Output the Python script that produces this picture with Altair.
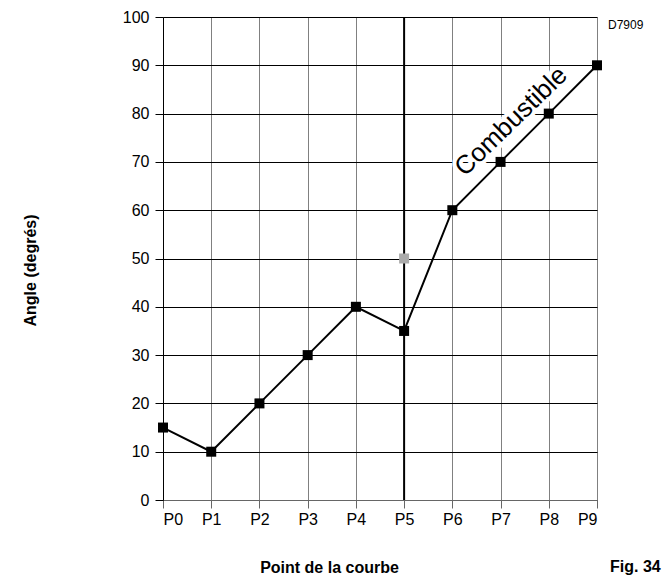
import altair as alt
import pandas as pd

# Curve points
points = ["P0", "P1", "P2", "P3", "P4", "P5", "P6", "P7", "P8", "P9"]
angles = [15, 10, 20, 30, 40, 35, 60, 70, 80, 90]

# Alternative value at P5 (grey marker)
alt_point = ["P5"]
alt_angle = [50]

# Annotations
curve_label = "Combustible"
curve_label_pos = [7.22, 78.4]  # (point index, angle) of the label centre
ref_code = "D7909"
fig_label = "Fig. 34"
x_title = "Point de la courbe"
y_title = "Angle (degrés)"

W, H = 434, 483
FONT = "Liberation Sans"

df = pd.DataFrame({"idx": list(range(len(points))), "pt": points, "angle": angles})
df_alt = pd.DataFrame({"idx": [points.index(p) for p in alt_point], "angle": alt_angle})
df_lbl = pd.DataFrame({"idx": [curve_label_pos[0]], "angle": [curve_label_pos[1]], "t": [curve_label]})

x_enc = alt.X(
    "idx:Q",
    scale=alt.Scale(domain=[0, 9], nice=False, zero=False),
    axis=alt.Axis(
        values=list(range(10)),
        labelExpr="'P' + datum.value",
        title=x_title,
        titleFont=FONT, titleFontSize=16, titleFontWeight="bold", titleColor="black",
        titleX=166, titleY=67, titleAlign="center", titleBaseline="middle",
        labelFont=FONT, labelFontSize=16, labelColor="black", labelPadding=3,
        tickSize=8, tickColor="#666666", domainColor="#666666",
        gridColor="#808080", gridOpacity=1, grid=True,
    ),
)
y_enc = alt.Y(
    "angle:Q",
    scale=alt.Scale(domain=[0, 100], nice=False),
    axis=alt.Axis(
        values=list(range(0, 101, 10)),
        title=y_title,
        titleFont=FONT, titleFontSize=16, titleFontWeight="bold", titleColor="black",
        titleX=-133, titleY=253, titleAngle=270, titleAlign="center", titleBaseline="middle",
        labelFont=FONT, labelFontSize=16, labelColor="black", labelPadding=6,
        tickSize=8, tickColor="black", domainColor="black",
        gridColor="black", gridOpacity=1, grid=True,
    ),
)

base = alt.Chart(df)

# Label along the curve with a white halo that masks the grid behind it
halo = alt.Chart(df_lbl).mark_text(
    font=FONT, fontSize=26, angle=316, color="white", stroke="white", strokeWidth=8,
    align="center", baseline="middle",
).encode(x=x_enc, y=y_enc, text="t:N")
lbl = alt.Chart(df_lbl).mark_text(
    font=FONT, fontSize=26, angle=316, color="black",
    align="center", baseline="middle",
).encode(x="idx:Q", y="angle:Q", text="t:N")

# Vertical separator at P5
sep = alt.Chart(pd.DataFrame({"idx": [5]})).mark_rule(color="black", strokeWidth=2).encode(x="idx:Q")

line = base.mark_line(color="black", strokeWidth=2).encode(x="idx:Q", y="angle:Q")

# Grey alternative marker
grey_pt = alt.Chart(df_alt).mark_square(size=100, color="#aaaaaa", opacity=1).encode(x="idx:Q", y="angle:Q")

pts = base.mark_square(size=100, color="black", opacity=1).encode(x="idx:Q", y="angle:Q")

ref = alt.Chart(pd.DataFrame({"t": [ref_code]})).mark_text(
    font=FONT, fontSize=12, color="black", align="left", baseline="middle"
).encode(x=alt.value(445), y=alt.value(8), text="t:N")

fig = alt.Chart(pd.DataFrame({"t": [fig_label]})).mark_text(
    font=FONT, fontSize=16, fontWeight="bold", color="black", align="left", baseline="middle"
).encode(x=alt.value(447), y=alt.value(550), text="t:N")

chart = alt.layer(halo, lbl, sep, line, grey_pt, pts, ref, fig).properties(
    width=W, height=H,
    padding={"left": 163, "top": 17, "right": 68, "bottom": 81},
    autosize=alt.AutoSizeParams(type="none"),
).configure_view(stroke="#808080", strokeWidth=1).configure(background="white")

chart.save("out.html", embed_options={"renderer": "svg", "actions": False})
